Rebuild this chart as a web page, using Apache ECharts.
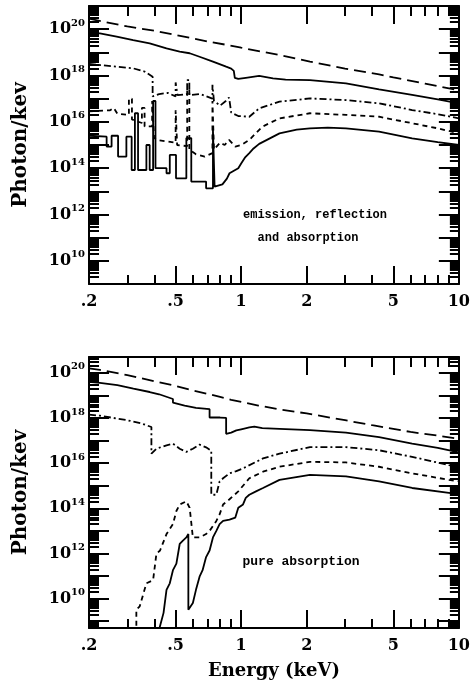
<!DOCTYPE html>
<html><head><meta charset="utf-8">
<script src="https://cdn.jsdelivr.net/npm/echarts@6/dist/echarts.min.js"></script>
<style>html,body{margin:0;padding:0;background:#fff}#c{width:473px;height:681px}</style>
</head><body><div id="c"></div>
<script>
// ---------- tick labels ----------
const xMajor = [0.2, 0.5, 1, 2, 5, 10];
const xTickLabels = ['.2', '.5', '1', '2', '5', '10'];
const xMinor = [0.3, 0.4, 0.6, 0.7, 0.8, 0.9, 3, 4, 6, 7, 8, 9];
const yLabelExps = [10, 12, 14, 16, 18, 20];

// ---------- data: [energy keV, log10(photon/keV)] ----------
// top panel: emission, reflection and absorption
const topIncident = [[0.2,20.45],[0.3,20.12],[0.4,19.93],[0.5,19.75],[0.7,19.47],[0.884,19.3],[1,19.2],[1.5,18.88],[2.07,18.6],[3,18.3],[4.3,18.05],[5,17.92],[7,17.65],[10,17.36]];
const topSolidA = [[0.2,19.85],[0.2245,19.82],[0.268,19.68],[0.319,19.53],[0.38,19.39],[0.454,19.17],[0.522,19.03],[0.58,18.96],[0.644,18.81],[0.742,18.6],[0.853,18.38],[0.9,18.3],[0.925,18.2],[0.935,17.9],[0.97,17.85],[1.05,17.9],[1.21,17.98],[1.4,17.88],[1.6,17.82],[2.07,17.8],[3.03,17.66],[4.3,17.4],[6.1,17.16],[8,16.97],[10,16.8]];
const topDashDot = [[0.2,18.5],[0.2245,18.45],[0.268,18.38],[0.319,18.31],[0.36,18.17],[0.392,17.95],[0.392,17.1],[0.42,17.2],[0.46,17.25],[0.5,17.1],[0.5,17.7],[0.51,17.7],[0.51,17.15],[0.565,17.2],[0.565,17.8],[0.578,17.8],[0.578,17.15],[0.65,17.2],[0.738,17.0],[0.738,17.6],[0.75,17.6],[0.75,16.9],[0.8,16.7],[0.85,16.9],[0.88,17.05],[0.9,16.4],[0.97,16.25],[1.09,16.22],[1.21,16.58],[1.5,16.87],[2.07,17.01],[3.03,16.94],[4.3,16.8],[6.1,16.51],[8,16.33],[10,16.15]];
const topDash = [[0.2,16.45],[0.25,16.5],[0.26,16.6],[0.27,16.35],[0.305,16.3],[0.305,17.0],[0.315,17.0],[0.315,16.1],[0.35,15.95],[0.35,16.6],[0.36,16.6],[0.36,15.8],[0.39,15.8],[0.39,16.9],[0.398,16.9],[0.398,15.3],[0.42,15.2],[0.46,15.15],[0.5,15.1],[0.5,16.5],[0.508,16.5],[0.508,15.0],[0.565,14.95],[0.565,17.4],[0.578,17.4],[0.578,14.8],[0.62,14.6],[0.68,14.5],[0.738,14.65],[0.738,16.9],[0.75,16.9],[0.75,14.8],[0.8,15.1],[0.84,15.0],[0.88,15.22],[0.94,14.93],[1.0,15.0],[1.09,15.22],[1.25,15.79],[1.5,16.15],[2.07,16.37],[3.03,16.3],[4.3,16.22],[6.1,15.94],[8,15.72],[10,15.5]];
const topSolidB = [[0.2,15.4],[0.241,15.36],[0.241,14.93],[0.254,14.93],[0.254,15.4],[0.272,15.4],[0.272,14.5],[0.297,14.5],[0.297,15.36],[0.314,15.36],[0.314,13.92],[0.325,13.92],[0.325,16.37],[0.336,16.37],[0.336,13.92],[0.367,13.92],[0.367,15.0],[0.38,15.0],[0.38,13.92],[0.394,13.92],[0.394,16.9],[0.404,16.9],[0.404,14.0],[0.454,14.0],[0.454,13.78],[0.47,13.78],[0.47,14.57],[0.502,14.57],[0.502,13.56],[0.56,13.56],[0.56,15.3],[0.59,15.3],[0.59,13.42],[0.69,13.42],[0.69,13.13],[0.742,13.13],[0.742,15.65],[0.755,15.65],[0.755,13.2],[0.82,13.3],[0.86,13.55],[0.884,13.78],[0.93,13.9],[0.97,14.0],[1.0,14.2],[1.04,14.45],[1.09,14.65],[1.14,14.85],[1.21,15.05],[1.3,15.2],[1.5,15.5],[1.8,15.66],[2.07,15.72],[2.5,15.75],[3.03,15.72],[4.3,15.58],[6.1,15.29],[8,15.12],[10,15.0]];

// bottom panel: pure absorption
const botIncident = [[0.2,20.2],[0.2245,20.13],[0.3,19.9],[0.4,19.62],[0.5,19.42],[0.6,19.22],[0.7,19.07],[0.8,18.93],[0.9,18.8],[1.2,18.55],[1.5,18.38],[2,18.2],[3,17.9],[4,17.68],[5,17.52],[6,17.38],[8,17.22],[10,17.08]];
const botSolidA = [[0.2,19.6],[0.2245,19.55],[0.27,19.45],[0.32,19.3],[0.38,19.15],[0.42,19.05],[0.486,18.84],[0.486,18.68],[0.55,18.55],[0.62,18.45],[0.716,18.39],[0.716,18.02],[0.8,18.02],[0.853,18.0],[0.853,17.3],[0.9,17.35],[0.95,17.45],[1.0,17.5],[1.09,17.58],[1.15,17.62],[1.25,17.55],[1.5,17.52],[2.07,17.46],[3.03,17.35],[4.3,17.15],[6.1,16.86],[8,16.68],[10,16.48]];
const botDashDot = [[0.2,18.15],[0.2245,18.1],[0.3,17.9],[0.35,17.75],[0.387,17.6],[0.387,16.42],[0.408,16.64],[0.454,16.79],[0.486,16.86],[0.522,16.64],[0.56,16.5],[0.6,16.64],[0.644,16.82],[0.69,16.7],[0.729,16.55],[0.729,14.6],[0.769,14.6],[0.796,15.19],[0.826,15.33],[0.884,15.55],[0.95,15.65],[1.02,15.77],[1.26,16.21],[1.5,16.42],[2.07,16.71],[3.03,16.71],[4.3,16.57],[6.1,16.28],[9,15.91],[10,15.85]];
const botDash = [[0.33,8.0],[0.33,9.51],[0.342,9.66],[0.367,10.68],[0.394,10.82],[0.408,11.99],[0.424,12.13],[0.454,12.86],[0.486,13.3],[0.504,13.88],[0.522,14.17],[0.56,14.31],[0.58,14.02],[0.6,12.71],[0.644,12.71],[0.69,12.86],[0.716,13.0],[0.769,13.44],[0.796,13.73],[0.826,14.17],[0.884,14.4],[0.97,14.75],[1.09,15.33],[1.26,15.62],[1.5,15.84],[2.07,16.06],[3.03,16.03],[4.3,15.84],[6.1,15.55],[9,15.26],[10,15.2]];
const botSolidB = [[0.408,8.2],[0.424,8.79],[0.44,9.37],[0.454,10.39],[0.47,10.68],[0.486,11.26],[0.504,11.55],[0.522,12.42],[0.54,12.57],[0.56,12.71],[0.572,12.86],[0.572,9.51],[0.58,9.51],[0.6,9.81],[0.62,10.39],[0.644,10.97],[0.665,11.26],[0.69,11.84],[0.716,12.13],[0.742,12.71],[0.769,13.0],[0.796,13.3],[0.826,13.44],[0.884,13.5],[0.94,13.59],[0.97,14.02],[1.02,14.17],[1.05,14.46],[1.09,14.6],[1.17,14.75],[1.26,14.9],[1.5,15.26],[2.07,15.48],[3.03,15.41],[4.3,15.19],[6.1,14.9],[9,14.68],[10,14.62]];

// ---------- chart ----------
const L = v => Math.log10(v);
const K = '#000';
const SERIF = 'DejaVu Serif';
const panels = [
  {grid:{left:89, top:6, width:371, height:278}, ymin:9, ymax:21, xname:'',
   curves:[[topIncident,[12,6]],[topSolidA,'solid'],[topDashDot,[7,3,2,3]],[topDash,[5,4]],[topSolidB,'solid']]},
  {grid:{left:89, top:357, width:371, height:275}, ymin:8.7, ymax:20.7, xname:'Energy (keV)',
   curves:[[botIncident,[12,6]],[botSolidA,'solid'],[botDashDot,[7,3,2,3]],[botDash,[5,4]],[botSolidB,'solid']]}
];

const xMajVals = xMajor.map(L);
const xMinVals = xMinor.map(L);
function xLabel(v){
  for (let i=0;i<xMajVals.length;i++) if (Math.abs(xMajVals[i]-v)<1e-6) return xTickLabels[i];
  return '';
}
const tickStyle = {color:K, width:2};
const frameStyle = {color:K, width:2};
const grids=[], xAxes=[], yAxes=[], series=[];
panels.forEach((p, gi) => {
  grids.push(p.grid);
  const yMaj=[], yMin=[];
  for (let n=Math.floor(p.ymin); n<=Math.ceil(p.ymax); n++){
    if (n>=p.ymin && n<=p.ymax) yMaj.push(n);
    for (let k=2;k<=9;k++){ const v=n+L(k); if (v>p.ymin && v<p.ymax) yMin.push(v); }
  }
  const yLab = yLabelExps.filter(v => v>=p.ymin && v<=p.ymax);
  const xb = {gridIndex:gi, type:'value', min:L(0.2), max:1, splitLine:{show:false}};
  xAxes.push(
    {...xb, position:'bottom', axisLine:{show:true,onZero:false,lineStyle:frameStyle},
     axisTick:{show:true,inside:true,length:18,customValues:xMajVals,lineStyle:tickStyle},
     axisLabel:{show:true,customValues:xMajVals,margin:10,formatter:xLabel,color:K,fontFamily:SERIF,fontWeight:'bold',fontSize:16},
     name:p.xname, nameLocation:'middle', nameGap:34,
     nameTextStyle:{color:K,fontFamily:SERIF,fontWeight:'bold',fontSize:18}},
    {...xb, position:'bottom', axisLine:{show:false,onZero:false},
     axisTick:{show:true,inside:true,length:9,customValues:xMinVals,lineStyle:tickStyle}, axisLabel:{show:false}},
    {...xb, position:'top', axisLine:{show:true,onZero:false,lineStyle:frameStyle},
     axisTick:{show:true,inside:true,length:18,customValues:xMajVals,lineStyle:tickStyle}, axisLabel:{show:false}},
    {...xb, position:'top', axisLine:{show:false,onZero:false},
     axisTick:{show:true,inside:true,length:10,customValues:xMinVals,lineStyle:tickStyle}, axisLabel:{show:false}}
  );
  const yb = {gridIndex:gi, type:'value', min:p.ymin, max:p.ymax, splitLine:{show:false}};
  yAxes.push(
    {...yb, position:'left', axisLine:{show:true,onZero:false,lineStyle:frameStyle},
     axisTick:{show:true,inside:true,length:20,customValues:yMaj,lineStyle:tickStyle},
     axisLabel:{show:true,customValues:yLab,margin:4,
       formatter: v => '{b|10}{s|' + Math.round(v) + '}',
       rich:{b:{fontSize:16,fontFamily:SERIF,fontWeight:'bold',color:K,lineHeight:22},
             s:{fontSize:10,fontFamily:SERIF,fontWeight:'bold',color:K,lineHeight:12,verticalAlign:'top'}}},
     name:'Photon/kev', nameLocation:'middle', nameGap:58, nameRotate:90,
     nameTextStyle:{color:K,fontFamily:SERIF,fontWeight:'bold',fontSize:20}},
    {...yb, position:'left', axisLine:{show:false,onZero:false},
     axisTick:{show:true,inside:true,length:10,customValues:yMin,lineStyle:tickStyle}, axisLabel:{show:false}},
    {...yb, position:'right', axisLine:{show:true,onZero:false,lineStyle:frameStyle},
     axisTick:{show:true,inside:true,length:20,customValues:yMaj,lineStyle:tickStyle}, axisLabel:{show:false}},
    {...yb, position:'right', axisLine:{show:false,onZero:false},
     axisTick:{show:true,inside:true,length:9,customValues:yMin,lineStyle:tickStyle}, axisLabel:{show:false}}
  );
  p.curves.forEach(([arr, type]) => {
    series.push({type:'line', xAxisIndex:gi*4, yAxisIndex:gi*4, symbol:'none', clip:true,
      data: arr.map(d => [L(d[0]), d[1]]),
      lineStyle:{color:K, width:1.8, type:type}});
  });
});

const chart = echarts.init(document.getElementById('c'), null, {renderer:'canvas'});
chart.setOption({
  animation:false,
  backgroundColor:'#fff',
  grid:grids, xAxis:xAxes, yAxis:yAxes, series:series,
  graphic:[
    {type:'text', x:315, y:215, style:{text:'emission, reflection', fill:K, font:'bold 12px "Liberation Mono"', align:'center', verticalAlign:'middle', textAlign:'center', textVerticalAlign:'middle'}},
    {type:'text', x:308, y:238, style:{text:'and absorption', fill:K, font:'bold 12px "Liberation Mono"', align:'center', verticalAlign:'middle', textAlign:'center', textVerticalAlign:'middle'}},
    {type:'text', x:301, y:562, style:{text:'pure absorption', fill:K, font:'bold 13px "Liberation Mono"', align:'center', verticalAlign:'middle', textAlign:'center', textVerticalAlign:'middle'}}
  ]
});
</script></body></html>
